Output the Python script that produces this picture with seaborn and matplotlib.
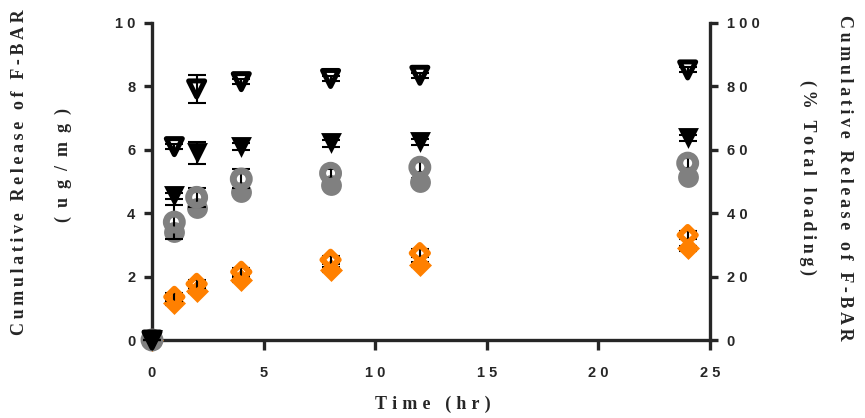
# Cumulative release of F-BAR over time (two y axes: ug/mg and % of loading)
import numpy as np
import pandas as pd
import matplotlib
matplotlib.use('Agg')
import matplotlib.pyplot as plt
import seaborn as sns
from matplotlib.ticker import FuncFormatter

# data
# -----------------------------------------------------------------------------
time_hr = [0, 1, 2, 4, 8, 12, 24]

tri_open = [0, 6.10, 7.92, 8.15, 8.25, 8.35, 8.52]
tri_open_sd = [0, 0.08, 0.45, 0.08, 0.08, 0.08, 0.08]
tri_fill = [0, 4.55, 5.90, 6.10, 6.20, 6.25, 6.37]
tri_fill_sd = [0, 0.10, 0.35, 0.10, 0.10, 0.10, 0.10]

circ_open = [0, 3.72, 4.50, 5.08, 5.26, 5.45, 5.58]
circ_open_sd = [0, 0.53, 0.30, 0.30, 0.15, 0.15, 0.15]
circ_fill = [0, 3.40, 4.16, 4.68, 4.88, 5.00, 5.14]
circ_fill_sd = [0, 0.10, 0.10, 0.10, 0.10, 0.10, 0.10]

dia_open = [0, 1.36, 1.77, 2.15, 2.53, 2.74, 3.31]
dia_open_sd = [0, 0.12, 0.12, 0.12, 0.12, 0.12, 0.12]
dia_fill = [0, 1.18, 1.55, 1.90, 2.22, 2.38, 2.90]
dia_fill_sd = [0, 0.08, 0.08, 0.08, 0.08, 0.08, 0.08]

left_ticks = [0, 2, 4, 6, 8, 10]
right_ticks = [0, 20, 40, 60, 80, 100]
x_ticks = [0, 5, 10, 15, 20, 25]
# -----------------------------------------------------------------------------

# styles: (values, sd, marker, color, hollow, size, edge width)
# -----------------------------------------------------------------------------
grey = '#808080'
orange = '#FF8000'
series = [
    (dia_fill, dia_fill_sd, 'D', orange, False, 137, 0),
    (dia_open, dia_open_sd, 'D', orange, True, 70, 4.2),
    (circ_fill, circ_fill_sd, 'o', grey, False, 225, 0),
    (circ_open, circ_open_sd, 'o', grey, True, 132, 5.0),
    (tri_fill, tri_fill_sd, 'v', 'black', False, 225, 0),
    (tri_open, tri_open_sd, 'v', 'black', True, 133, 3.6),
]
# -----------------------------------------------------------------------------

sns.set_style('ticks')
plt.rcParams['font.family'] = ['Liberation Sans', 'DejaVu Sans']
plt.rcParams['font.weight'] = 'bold'
plt.rcParams['xtick.labelsize'] = 10.5
plt.rcParams['ytick.labelsize'] = 10.5

HAIR = '\u200a'
THIN = '\u2009'
EN = '\u2002'


def spaced(s, sep):
    return sep.join(s)


tick_fmt = FuncFormatter(lambda v, p: spaced('%d' % v, THIN + HAIR))
label_font = dict(family=['Liberation Serif', 'DejaVu Serif'],
                  weight='bold', size=13)

fig = plt.figure(figsize=(8.65, 4.18), dpi=100)
ax = fig.add_axes([152 / 865, 1 - 340 / 418,
                   (710 - 152) / 865, (340 - 23) / 418])

for i, (vals, sd, marker, color, hollow, size, lw) in enumerate(series):
    df = pd.DataFrame({'Time': time_hr, 'Release': vals})
    # error bars behind the markers, visible through hollow ones
    ax.errorbar(df['Time'], df['Release'], yerr=sd, fmt='none',
                ecolor='black', elinewidth=1.5, capsize=6.5,
                capthick=1.5, zorder=2 + 2 * i, clip_on=False)
    sns.scatterplot(data=df, x='Time', y='Release', marker=marker, s=size,
                    color=color, linewidth=0, ax=ax, clip_on=False,
                    zorder=3 + 2 * i, legend=False)
    coll = ax.collections[-1]
    if hollow:
        coll.set_facecolor('none')
        coll.set_edgecolor(color)
        coll.set_linewidth(lw)

ax.set_xlim(0, 25)
ax.set_ylim(0, 10)
ax.set_xticks(x_ticks)
ax.set_yticks(left_ticks)
ax.xaxis.set_major_formatter(tick_fmt)
ax.yaxis.set_major_formatter(tick_fmt)
ax.set_xlabel('')
ax.set_ylabel('')
ax.tick_params(axis='x', length=7, width=2.4, pad=12, direction='out')
ax.tick_params(axis='y', length=6, width=2.4, pad=6, direction='out')
for side in ['left', 'bottom']:
    ax.spines[side].set_linewidth(2.4)
ax.spines['top'].set_visible(False)
ax.spines['right'].set_visible(False)

# right axis in % of total loading
ax2 = ax.twinx()
ax2.set_ylim(0, 100)
ax2.set_yticks(right_ticks)
ax2.yaxis.set_major_formatter(tick_fmt)
ax2.tick_params(axis='y', length=6, width=2.4, pad=6, direction='out')
ax2.spines['right'].set_linewidth(2.4)
for side in ['top', 'left', 'bottom']:
    ax2.spines[side].set_visible(False)

# axis titles
fig.text(433 / 865, 1 - 404 / 418, spaced('Time (hr)', THIN + HAIR),
         ha='center', va='center', **label_font)
fig.text(20 / 865, 1 - 172 / 418, spaced('Cumulative Release of F-BAR', THIN),
         ha='center', va='center', rotation=90, **label_font)
fig.text(63 / 865, 1 - 165 / 418, spaced('(ug/mg)', EN),
         ha='center', va='center', rotation=90, **label_font)
fig.text(845 / 865, 1 - 178 / 418, spaced('Cumulative Release of F-BAR', THIN),
         ha='center', va='center', rotation=270, **label_font)
fig.text(808 / 865, 1 - 178 / 418, spaced('(% Total loading)', THIN),
         ha='center', va='center', rotation=270, **label_font)

plt.savefig('out.png', dpi=100)
